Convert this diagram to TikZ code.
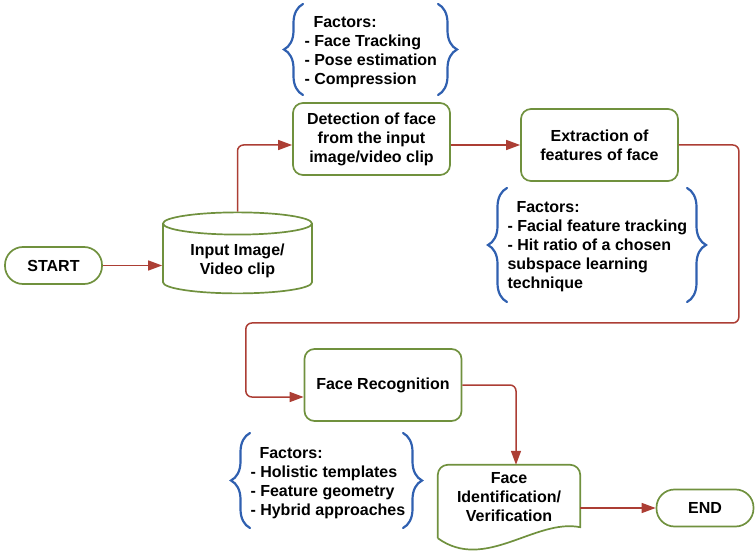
\documentclass[tikz,border=0pt]{standalone}
\usepackage{fontspec}
\setmainfont{Liberation Sans}
\usetikzlibrary{shapes.geometric,arrows.meta,positioning,calc,decorations.pathreplacing}
\definecolor{boxgreen}{RGB}{112,145,62}
\definecolor{arrowred}{RGB}{172,62,52}
\definecolor{braceblue}{RGB}{48,96,176}

\begin{document}
\begin{tikzpicture}[x=1pt, y=-1pt,
  font=\fontsize{16}{19}\selectfont\bfseries,
  box/.style={draw=boxgreen, line width=1.7pt, rounded corners=10pt, align=center,
              minimum width=157pt, minimum height=72pt},
  term/.style={draw=boxgreen, line width=1.7pt, rounded corners=18pt,
               minimum width=97pt, minimum height=37pt},
  db/.style={draw=boxgreen, line width=1.7pt, cylinder, shape border rotate=90,
             aspect=0.22, align=center, minimum width=149pt, minimum height=81pt},
  doc/.style={draw=boxgreen, line width=1.7pt},
  factors/.style={align=left, anchor=west},
  brc/.style={draw=braceblue, line width=2.2pt, line cap=round, decorate,
              decoration={brace, amplitude=19pt}},
  arr/.style={draw=arrowred, line width=1.5pt, rounded corners=6pt,
              -{Triangle[length=14pt, width=10pt]}}
]
\useasboundingbox (0,0) rectangle (755,553);

% main flow
\node[term] (start)   at (53.5,265.5) {START};
\node[db]   (input)   at (237.5,260.5) {Input Image/\\Video clip};
\node[box]  (detect)  at (371.5,139)  {Detection of face\\from the input\\image/video clip};
\node[box]  (extract) at (599.5,145)  {Extraction of\\features of face};
\node[box]  (recog)   at (383,385)    {Face Recognition};
\node[align=center, minimum width=142pt, minimum height=64pt] (ident) at (509,497)
     {Face\\Identification/\\Verification};
\node[term] (end)     at (705,508)    {END};
\draw[doc] ($(ident.south west)+(0,9)$) [rounded corners=10pt] -- (ident.north west)
     -- (ident.north east) [sharp corners] -- ($(ident.south east)+(0,-2)$)
     .. controls +(-45,-9) and +(47,34) .. ($(ident.south west)+(0,9)$);

% factors
\node[factors] (fac1) at (301,52)    {\hspace*{9pt}Factors:\\- Face Tracking\\- Pose estimation\\- Compression};
\node[factors] (fac2) at (504,247)   {\hspace*{9pt}Factors:\\- Facial feature tracking\\- Hit ratio of a chosen\\subspace learning\\technique};
\node[factors] (fac3) at (247,483)   {\hspace*{9pt}Factors:\\- Holistic templates\\- Feature geometry\\- Hybrid approaches};
\draw[brc] (303,95) -- (303,4);   \draw[brc] (438,4) -- (438,95);
\draw[brc] (507,302) -- (507,188); \draw[brc] (687,188) -- (687,302);
\draw[brc] (250,528) -- (250,433); \draw[brc] (403,433) -- (403,528);

% connectors
\draw[arr] (start.east) -- (start.east -| input.west);
\draw[arr] (input.north) |- ([yshift=-6pt]detect.west);
\draw[arr] ([yshift=-6pt]detect.east) -- (extract.west);
\draw[arr] (extract.east) -| ++(60,178) -- ++(-493,0) |- ([yshift=-12pt]recog.west);
\draw[arr] (recog.east) -| ([xshift=7pt]ident.north);
\draw[arr] ([yshift=-11pt]ident.east) -- (end.west);
\end{tikzpicture}
\end{document}
